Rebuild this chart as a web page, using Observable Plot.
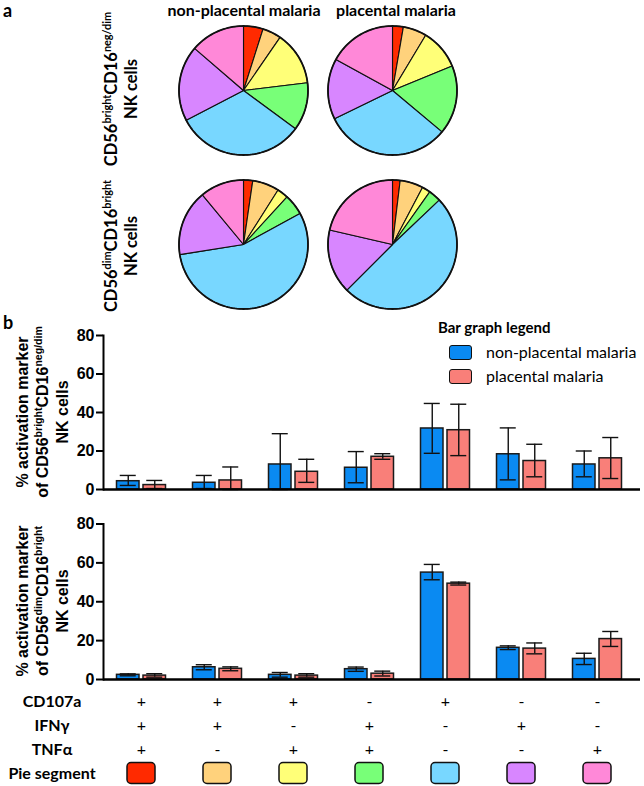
<!DOCTYPE html>
<html>
<head>
<meta charset="utf-8">
<script src="https://cdn.jsdelivr.net/npm/d3@7"></script>
<script src="https://cdn.jsdelivr.net/npm/@observablehq/plot@0.6"></script>
<style>
  html, body { margin: 0; padding: 0; background: #fff; }
  #root { position: relative; width: 644px; height: 786px; overflow: hidden; font-family: Lato, "Liberation Sans", sans-serif; color: #000; }
  .abs { position: absolute; white-space: nowrap; }
  .rot { position: absolute; white-space: nowrap; text-align: center; transform: translate(-50%, -50%) rotate(-90deg); }
  sup { font-size: 0.66em; vertical-align: 0.55em; line-height: 0; }
  svg { position: absolute; overflow: visible; }
</style>
</head>
<body>
<div id="root"></div>
<script>
// ---------------- DATA ----------------
const segmentNames = ["+++", "++-", "+-+", "-++", "+--", "-+-", "--+"];
const segmentColors = ["#FF2A00", "#FFD27C", "#FFFF78", "#78FF78", "#78D7FF", "#D886FF", "#FF88D8"];
const cd107a = ["+", "+", "+", "-", "+", "-", "-"];
const ifng   = ["+", "+", "-", "+", "-", "+", "-"];
const tnfa   = ["+", "-", "+", "+", "-", "-", "+"];
const tableRows = ["CD107a", "IFNγ", "TNFα", "Pie segment"];
const groups = ["non-placental malaria", "placental malaria"];
const groupColors = ["#0A8AF2", "#F97F79"];
const yTicks = [0, 20, 40, 60, 80];

// pie fractions (%) – CD56bright CD16neg/dim
const pieBrightNonPM = [4.9, 4.7, 13.5, 12.0, 32.3, 18.9, 13.7];
const pieBrightPM    = [2.7, 5.9, 10.2, 17.3, 31.7, 15.2, 17.0];
// pie fractions (%) – CD56dim CD16bright
const pieDimNonPM = [2.3, 6.7, 2.8, 5.2, 55.5, 16.5, 11.0];
const pieDimPM    = [1.9, 5.8, 2.1, 3.1, 49.6, 16.1, 21.4];

// bar chart – CD56bright CD16neg/dim
const topNonPM   = [4.3, 3.5, 13.0, 11.3, 31.7, 18.3, 13.0];
const topNonPMHi = [7.3, 7.3, 29.0, 19.7, 44.7, 32.0, 20.0];
const topNonPMLo = [2.1, 0.5, 0.0, 3.5, 18.8, 5.0, 6.6];
const topPM      = [2.3, 4.7, 9.2, 17.0, 30.8, 14.8, 16.2];
const topPMHi    = [4.7, 11.7, 15.7, 18.6, 44.3, 23.5, 27.0];
const topPMLo    = [0.5, 0.0, 3.7, 15.7, 17.6, 6.6, 5.7];
// bar chart – CD56dim CD16bright
const botNonPM   = [2.4, 6.3, 2.4, 5.3, 55.0, 16.3, 10.6];
const botNonPMHi = [2.9, 7.6, 3.6, 6.4, 59.2, 17.3, 13.5];
const botNonPMLo = [1.9, 5.0, 1.2, 4.2, 51.3, 15.4, 7.7];
const botPM      = [2.0, 5.5, 2.0, 3.0, 49.3, 15.9, 20.8];
const botPMHi    = [3.0, 6.5, 3.0, 4.3, 50.1, 18.8, 24.7];
const botPMLo    = [1.2, 4.5, 1.2, 1.8, 48.6, 13.2, 17.0];

// ---------------- LAYOUT HELPERS ----------------
const root = document.getElementById("root");
function place(node, left, top) {
  node.style.left = left + "px";
  node.style.top = top + "px";
  root.appendChild(node);
  return node;
}
function html(cls, inner, style) {
  const d = document.createElement("div");
  d.className = cls;
  d.innerHTML = inner;
  Object.assign(d.style, style || {});
  return d;
}

// ---------------- TEXT ----------------
place(html("abs", "a", {fontWeight: 700, fontSize: "18px", lineHeight: "20px"}), 3, 0);
place(html("abs", "b", {fontWeight: 700, fontSize: "18px", lineHeight: "20px"}), 3, 312);
place(html("abs", "non-placental malaria", {fontWeight: 700, fontSize: "16px", lineHeight: "20px", transform: "translateX(-50%)"}), 244, 0);
place(html("abs", "placental malaria", {fontWeight: 700, fontSize: "16px", lineHeight: "20px", transform: "translateX(-50%)"}), 396, 0);

place(html("rot", "CD56<sup>bright</sup>CD16<sup>neg/dim</sup><br>NK cells", {fontWeight: 700, fontSize: "16.5px", lineHeight: "20px"}), 121, 89);
place(html("rot", "CD56<sup>dim</sup>CD16<sup>bright</sup><br>NK cells", {fontWeight: 700, fontSize: "16.5px", lineHeight: "20px"}), 121, 246);

const arialBold = {fontFamily: '"Liberation Sans", Arial, sans-serif', fontWeight: 700, fontSize: "16px", lineHeight: "20px"};
place(html("rot", "% activation marker<br>of CD56<sup>bright</sup>CD16<sup>neg/dim</sup><br>NK cells", arialBold), 43, 412);
place(html("rot", "% activation marker<br>of CD56<sup>dim</sup>CD16<sup>bright</sup><br>NK cells", arialBold), 43, 601);

// legend
place(html("abs", "Bar graph legend", {fontWeight: 700, fontSize: "15px", lineHeight: "15px"}), 438, 320);
groups.forEach((g, i) => {
  place(html("abs", "", {width: "21px", height: "13px", background: groupColors[i], border: "1.5px solid #111", borderRadius: "3px"}), 449, 345 + i * 24);
  place(html("abs", g, {fontSize: "16px", lineHeight: "16px"}), 486, 344 + i * 24);
});

// ---------------- PIES ----------------
function pie(values) {
  const total = d3.sum(values);
  let acc = 0;
  const marks = [];
  values.forEach((v, i) => {
    const a0 = acc / total * 2 * Math.PI, a1 = (acc + v) / total * 2 * Math.PI;
    acc += v;
    const n = Math.max(2, Math.ceil((a1 - a0) / 0.02));
    const pts = [{x: 0, y: 0}];
    for (let k = 0; k <= n; k++) {
      const a = a0 + (a1 - a0) * k / n;
      pts.push({x: Math.sin(a), y: Math.cos(a)});
    }
    marks.push(Plot.line(pts, {x: "x", y: "y", curve: "linear-closed", fill: segmentColors[i], stroke: "#111", strokeWidth: 1.1, strokeLinejoin: "round"}));
  });
  const ring = d3.range(0, 361, 2).map(d => ({x: Math.sin(d * Math.PI / 180), y: Math.cos(d * Math.PI / 180)}));
  marks.push(Plot.line(ring, {x: "x", y: "y", curve: "linear-closed", stroke: "#111", strokeWidth: 1.8}));
  return Plot.plot({
    width: 136, height: 136, margin: 3.5,
    x: {domain: [-1, 1], axis: null},
    y: {domain: [-1, 1], axis: null},
    marks
  });
}
place(pie(pieBrightNonPM), 242.5 - 68, 89.5 - 68);
place(pie(pieBrightPM), 391.5 - 68, 89.5 - 68);
place(pie(pieDimNonPM), 242.5 - 68, 243.5 - 68);
place(pie(pieDimPM), 391.5 - 68, 243.5 - 68);

// ---------------- BAR CHARTS ----------------
function rowsFor(values, hi, lo) {
  return segmentNames.map((s, i) => ({combo: s, value: values[i], hi: hi[i], lo: lo[i]}));
}
function barChart(a, b, marginTop, height) {
  const bw = 76; // band width for 7 groups over [103, 635]
  const capHalf = 8;
  const side = (rows, color, left) => {
    const off = left ? -13.25 : 13.25;
    return [
      Plot.barY(rows, {x: "combo", y: "value", fill: color, stroke: "#1a1a1a", strokeWidth: 1.5,
        insetLeft: left ? 13.5 : 40, insetRight: left ? 40 : 13.5}),
      Plot.ruleX(rows, {x: "combo", y1: "lo", y2: "hi", dx: off, stroke: "#111", strokeWidth: 1.4}),
      Plot.tickY(rows, {x: "combo", y: "hi", dx: off, stroke: "#111", strokeWidth: 1.4, insetLeft: bw / 2 - capHalf, insetRight: bw / 2 - capHalf}),
      Plot.tickY(rows, {x: "combo", y: "lo", dx: off, stroke: "#111", strokeWidth: 1.4, insetLeft: bw / 2 - capHalf, insetRight: bw / 2 - capHalf})
    ];
  };
  return Plot.plot({
    width: 644, height, marginTop, marginBottom: 3, marginLeft: 103, marginRight: 4,
    style: {fontFamily: '"Liberation Sans", Arial, sans-serif', overflow: "visible"},
    x: {domain: segmentNames, range: [103, 635], padding: 0, axis: null},
    y: {domain: [0, 80], axis: null},
    marks: [
      ...side(a, groupColors[0], true),
      ...side(b, groupColors[1], false),
      Plot.ruleY([0], {stroke: "#000", strokeWidth: 2.5}),
      Plot.axisY({ticks: yTicks, tickSize: 7, tickPadding: 2, strokeWidth: 2, fontSize: 16, fontWeight: "bold", label: null}),
      Plot.frame({anchor: "left", stroke: "#000", strokeWidth: 2})
    ]
  });
}
place(barChart(rowsFor(topNonPM, topNonPMHi, topNonPMLo), rowsFor(topPM, topPMHi, topPMLo), 15, 172), 0, 320);
place(barChart(rowsFor(botNonPM, botNonPMHi, botNonPMLo), rowsFor(botPM, botPMHi, botPMLo), 15.5, 174), 0, 508);

// ---------------- TABLE ----------------
const signs = [];
segmentNames.forEach((s, i) => {
  signs.push({combo: s, row: tableRows[0], sign: cd107a[i]});
  signs.push({combo: s, row: tableRows[1], sign: ifng[i]});
  signs.push({combo: s, row: tableRows[2], sign: tnfa[i]});
});
const swatches = segmentNames.map((s, i) => ({combo: s, row: tableRows[3], color: segmentColors[i]}));
const table = Plot.plot({
  width: 644, height: 97, marginTop: 0, marginBottom: 1, marginLeft: 103, marginRight: 9,
  style: {fontFamily: "Lato, sans-serif", overflow: "visible"},
  x: {domain: segmentNames, padding: 0, axis: null},
  y: {domain: tableRows, padding: 0, axis: null},
  marks: [
    Plot.text(signs, {x: "combo", y: "row", text: "sign", fontSize: 16}),
    Plot.cell(swatches, {x: "combo", y: "row", fill: "color", stroke: "#111", strokeWidth: 1.5, rx: 4,
      insetLeft: 24, insetRight: 24, insetTop: 1.5, insetBottom: 1.5}),
    Plot.text(tableRows, {y: d => d, frameAnchor: "left", dx: -51.5, textAnchor: "middle", fontSize: 16, fontWeight: "bold"})
  ]
});
place(table, 0, 689);
</script>
</body>
</html>
